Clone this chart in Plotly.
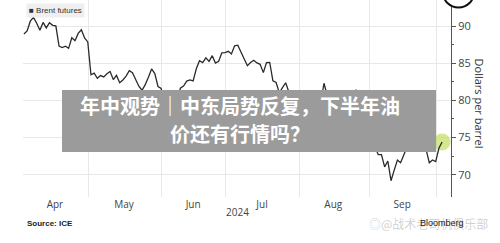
import pandas as pd
import plotly.graph_objects as go

# ---- data: Brent futures daily closes (USD/bbl) ----
apr_values = [88.92, 89.35, 90.65, 91.17, 90.38, 89.42, 90.48, 89.74, 90.45, 90.10,
              90.02, 87.29, 87.11, 87.29, 87.00, 88.42, 88.02, 89.01, 89.50, 88.40, 87.86]
may_values = [83.44, 83.67, 82.96, 83.33, 83.16, 83.58, 83.88, 82.79, 83.36, 82.38,
              82.75, 83.27, 83.98, 83.71, 82.88, 81.90, 81.36, 82.12, 83.10, 84.22,
              83.60, 81.86, 81.62]
jun_values = [78.36, 77.52, 78.41, 79.87, 79.62, 81.63, 81.92, 82.60, 82.75, 82.62,
              84.25, 85.33, 85.07, 85.71, 85.24, 86.01, 85.01, 85.25, 86.39, 86.41]
jul_values = [86.60, 86.24, 87.34, 87.43, 86.54, 85.75, 84.66, 85.08, 85.40, 85.03,
              84.85, 83.73, 85.08, 85.11, 82.63, 82.40, 81.01, 81.71, 82.37, 81.13,
              79.78, 78.63, 80.72]
aug_values = [79.52, 76.81, 76.30, 76.48, 78.33, 79.16, 79.66, 82.30, 80.69, 79.76,
              81.04, 79.68, 77.66, 77.20, 76.05, 77.22, 79.02, 81.43, 79.55, 78.65,
              79.94, 78.80]
sep_values = [77.52, 73.75, 72.70, 72.69, 71.06, 71.84, 69.19, 70.61, 71.97, 71.61,
              72.75, 73.70, 73.65, 74.88, 74.49, 73.90, 75.17, 73.46, 71.60, 71.98, 71.77]
oct_values = [73.56, 74.40]

segments = [
    ("2024-04-02", "2024-04-30", apr_values),
    ("2024-05-01", "2024-05-31", may_values),
    ("2024-06-03", "2024-06-28", jun_values),
    ("2024-07-01", "2024-07-31", jul_values),
    ("2024-08-01", "2024-08-30", aug_values),
    ("2024-09-02", "2024-09-30", sep_values),
    ("2024-10-01", "2024-10-02", oct_values),
]

month_labels = ["Apr", "May", "Jun", "Jul", "Aug", "Sep"]
label_dates = ["2024-04-15 17:00", "2024-05-15 08:00", "2024-06-14 00:00",
               "2024-07-15 14:00", "2024-08-14 22:00", "2024-09-13 12:00"]
month_grid = ["2024-04-30 05:00", "2024-05-31 05:00", "2024-06-28 05:00",
              "2024-07-31 05:00", "2024-08-30 05:00", "2024-09-30 05:00"]
y_ticks = [70, 75, 80, 85, 90]
y_minor = [72.5, 77.5, 82.5, 87.5]

dates, values = [], []
for start, end, vals in segments:
    d = list(pd.bdate_range(start, end))
    n = min(len(d), len(vals))
    dates += d[:n]
    values += vals[:n]

fig = go.Figure()
fig.add_trace(go.Scatter(
    x=[dates[-1]], y=[values[-1]], mode="markers",
    marker=dict(size=17, color="rgba(185,215,70,0.6)", line=dict(width=0)),
    hoverinfo="skip", showlegend=False))
fig.add_trace(go.Scatter(
    x=dates, y=values, mode="lines", name="Brent futures",
    line=dict(color="#2a2a2a", width=1.3), showlegend=False))

fig.update_layout(
    width=500, height=243,
    margin=dict(l=23, r=49, t=0, b=46),
    plot_bgcolor="white", paper_bgcolor="white",
    showlegend=False,
    font=dict(family="Open Sans", size=10, color="#444"),
)
fig.update_xaxes(
    type="date",
    range=["2024-04-01 17:00", "2024-10-04 19:00"],
    rangebreaks=[dict(bounds=["sat", "mon"])],
    tickmode="array", tickvals=label_dates, ticktext=month_labels,
    showgrid=False, ticks="", showline=False, zeroline=False,
    tickfont=dict(family="Open Sans", size=10, color="#444"),
    minor=dict(tickmode="array", tickvals=month_grid, showgrid=True,
               gridcolor="#e8e8e8", gridwidth=1, ticks=""),
)
fig.update_yaxes(
    side="right", range=[67.0, 93.5],
    tickmode="array", tickvals=y_ticks,
    showgrid=True, gridcolor="#e8e8e8", gridwidth=1,
    showline=True, linecolor="#555", linewidth=1,
    ticks="outside", ticklen=4, tickcolor="#555", tickwidth=1,
    tickfont=dict(family="Open Sans", size=11, color="#444"),
    zeroline=False,
    minor=dict(tickmode="array", tickvals=y_minor, ticks="outside",
               ticklen=2, tickcolor="#555", showgrid=False),
)

# decorative circle at top right
fig.add_shape(type="circle", xref="paper", yref="paper",
              x0=0.981, x1=1.054, y0=0.962, y1=1.119,
              fillcolor="white", line=dict(color="#111", width=2), layer="above")

annotations = [
    # opaque grey banner (drawn as an annotation so it sits above the line)
    dict(text=" ", x=0.528, y=0.386, width=374, height=62, bgcolor="#9b9b9b",
         borderpad=0, borderwidth=0, font=dict(size=4)),
    dict(text="<b>年中观势｜中东局势反复，下半年油</b>", x=0.507, y=0.467,
         font=dict(family="Noto Sans CJK SC", size=20, color="white")),
    dict(text="<b>价还有行情吗？</b>", x=0.507, y=0.320,
         font=dict(family="Noto Sans CJK SC", size=20, color="white")),
    dict(text="■ Brent futures", x=0.007, y=0.985, xanchor="left", yanchor="top",
         bgcolor="#efefef", borderpad=2,
         font=dict(family="Liberation Sans", size=8, color="#333")),
    dict(text="Dollars per barrel", x=1.049, y=0.472, textangle=90,
         xanchor="left", borderpad=0,
         font=dict(family="Open Sans", size=11, color="#333")),
    dict(text="2024", x=0.5, y=-0.076,
         font=dict(family="Open Sans", size=10, color="#444")),
    dict(text="<b>Source: ICE</b>", x=0.005, y=-0.132, xanchor="left",
         font=dict(family="Liberation Sans", size=8, color="#222")),
    dict(text="◎@战术老司机俱乐部", x=1.09, y=-0.132, xanchor="right",
         font=dict(family="Noto Sans CJK SC", size=12, color="rgba(150,150,150,0.45)")),
    dict(text="Bloomberg", x=1.035, y=-0.13, xanchor="right",
         font=dict(family="Liberation Sans", size=9, color="#222")),
]
for a in annotations:
    base = dict(xref="paper", yref="paper", showarrow=False,
                xanchor="center", yanchor="middle")
    base.update(a)
    fig.add_annotation(**base)

fig.write_html("out.html")
